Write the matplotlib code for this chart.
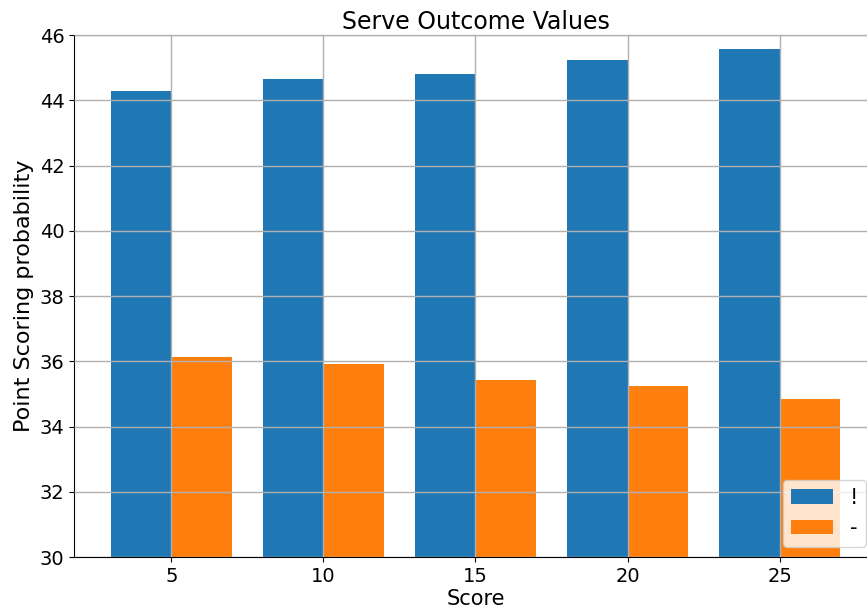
import matplotlib
matplotlib.use("Agg")
import matplotlib.pyplot as plt

scores = [5, 10, 15, 20, 25]
serie_excl = [44.28, 44.65, 44.80, 45.25, 45.57]
serie_dash = [36.12, 35.92, 35.44, 35.23, 34.83]

plt.rcParams['font.size'] = 14

fig = plt.figure(figsize=(8.67, 6.15), dpi=100)
ax = fig.add_axes([0.0854, 0.0943, 0.926, 0.8487])

ax.bar([s - 1 for s in scores], serie_excl, width=2, color="#1f77b4", label="!", zorder=2)
ax.bar([s + 1 for s in scores], serie_dash, width=2, color="#ff7f0e", label="-", zorder=2)

ax.set_ylim(30, 46)
ax.set_xticks(scores)
ax.tick_params(labelsize=14)
ax.grid(True, color="#b0b0b0", linewidth=1, zorder=0)
ax.set_axisbelow(False)
ax.legend(loc="lower right", fontsize=15)
ax.set_xlabel("Score", fontsize=15, labelpad=2)
ax.set_ylabel("Point Scoring probability", fontsize=16)
ax.set_title("Serve Outcome Values", fontsize=17, pad=4)

fig.savefig("out.png", dpi=100)
